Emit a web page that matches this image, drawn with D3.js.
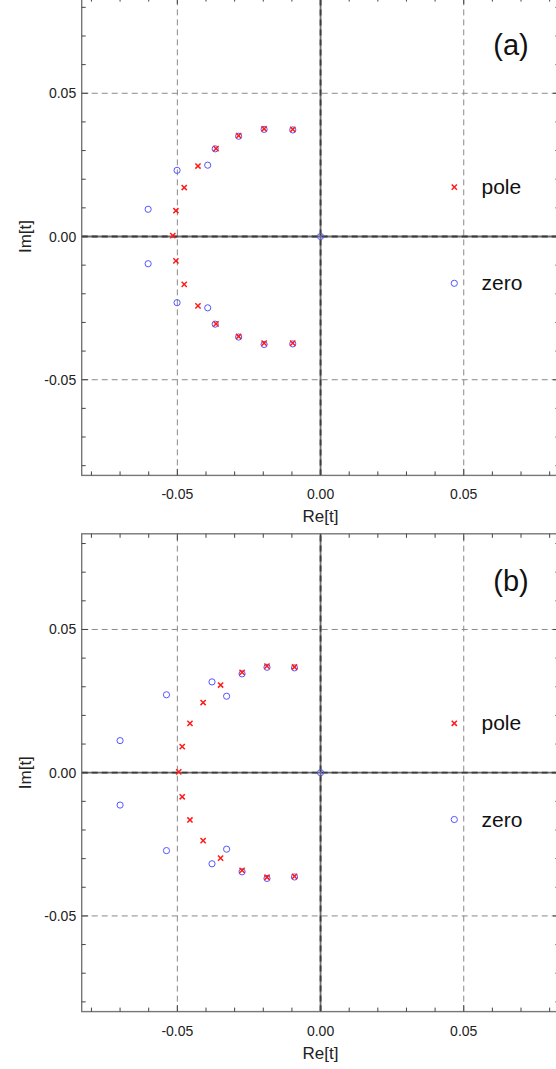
<!DOCTYPE html>
<html><head><meta charset="utf-8">
<script src="https://cdn.jsdelivr.net/npm/d3@7"></script>
<style>html,body{margin:0;padding:0;background:#fff;overflow:hidden}</style>
</head><body>
<svg id="c" width="556" height="1069"></svg>
<script>
// ---- data ----
const panelLabels = ["(a)", "(b)"];
const legendLabels = ["pole", "zero"];
const tickValues = [-0.05, 0.00, 0.05];
const tickLabels = ["-0.05", "0.00", "0.05"];
const minorTicks = [-0.08,-0.07,-0.06,-0.05,-0.04,-0.03,-0.02,-0.01,0,0.01,0.02,0.03,0.04,0.05,0.06,0.07,0.08];

const polesA_re = [-0.0516,-0.0505,-0.0476,-0.0428,-0.0365,-0.0286,-0.0197,-0.0097,-0.0505,-0.0476,-0.0428,-0.0365,-0.0286,-0.0197,-0.0097];
const polesA_im = [0.0003,0.0090,0.0171,0.0246,0.0307,0.0352,0.0376,0.0374,-0.0085,-0.0167,-0.0242,-0.0305,-0.0349,-0.0372,-0.0372];
const zerosA_re = [-0.0602,-0.0501,-0.0394,-0.0368,-0.0286,-0.0197,-0.0097,0,-0.0602,-0.0501,-0.0394,-0.0368,-0.0286,-0.0197,-0.0097];
const zerosA_im = [0.0095,0.0231,0.0249,0.0306,0.0350,0.0374,0.0372,0,-0.0095,-0.0231,-0.0249,-0.0306,-0.0351,-0.0377,-0.0375];

const polesB_re = [-0.0495,-0.0483,-0.0456,-0.0410,-0.0349,-0.0274,-0.0187,-0.0091,-0.0483,-0.0456,-0.0410,-0.0349,-0.0274,-0.0187,-0.0091];
const polesB_im = [0.0003,0.0091,0.0172,0.0245,0.0306,0.0350,0.0372,0.0369,-0.0084,-0.0165,-0.0237,-0.0298,-0.0341,-0.0365,-0.0362];
const zerosB_re = [-0.0700,-0.0538,-0.0379,-0.0328,-0.0274,-0.0187,-0.0091,0,-0.0700,-0.0538,-0.0379,-0.0328,-0.0274,-0.0187,-0.0091];
const zerosB_im = [0.0112,0.0272,0.0317,0.0267,0.0345,0.0368,0.0366,0,-0.0113,-0.0272,-0.0318,-0.0267,-0.0346,-0.0369,-0.0364];

const panels = [
  {label: panelLabels[0], top: -2.4, poles: [polesA_re, polesA_im], zeros: [zerosA_re, zerosA_im]},
  {label: panelLabels[1], top: 533.8, poles: [polesB_re, polesB_im], zeros: [zerosB_re, zerosB_im]}
];

const svg = d3.select("#c");
const FONT = "'Liberation Sans', Arial, Helvetica, sans-serif";
const R = 0.0834;
const left = 81.7, right = 559.4, H = 477.8;
const x = d3.scaleLinear().domain([-R, R]).range([left, right]);

panels.forEach(p => {
  const y = d3.scaleLinear().domain([-R, R]).range([p.top + H, p.top]);
  const g = svg.append("g");

  // gridlines
  [-0.05, 0.05].forEach(v => {
    g.append("line").attr("x1", x(v)).attr("x2", x(v)).attr("y1", y(-R)).attr("y2", y(R))
      .attr("stroke", "#8a8a8a").attr("stroke-width", 1).attr("stroke-dasharray", "6,4");
    g.append("line").attr("x1", x(-R)).attr("x2", x(R)).attr("y1", y(v)).attr("y2", y(v))
      .attr("stroke", "#8a8a8a").attr("stroke-width", 1).attr("stroke-dasharray", "6,4");
  });
  // zero axes
  g.append("line").attr("x1", x(0)).attr("x2", x(0)).attr("y1", y(-R)).attr("y2", y(R))
    .attr("stroke", "#6e6e6e").attr("stroke-width", 1.8);
  g.append("line").attr("x1", x(-R)).attr("x2", x(R)).attr("y1", y(0)).attr("y2", y(0))
    .attr("stroke", "#6e6e6e").attr("stroke-width", 1.8);
  g.append("line").attr("x1", x(0)).attr("x2", x(0)).attr("y1", y(-R)).attr("y2", y(R))
    .attr("stroke", "#3c3c3c").attr("stroke-width", 1.8).attr("stroke-dasharray", "6,4");
  g.append("line").attr("x1", x(-R)).attr("x2", x(R)).attr("y1", y(0)).attr("y2", y(0))
    .attr("stroke", "#3c3c3c").attr("stroke-width", 1.8).attr("stroke-dasharray", "6,4");

  // frame
  g.append("rect").attr("x", x(-R)).attr("y", y(R)).attr("width", x(R) - x(-R)).attr("height", y(-R) - y(R))
    .attr("fill", "none").attr("stroke", "#777").attr("stroke-width", 1.4);

  // ticks (inward) on all sides
  minorTicks.forEach(v => {
    const major = tickValues.some(t => Math.abs(t - v) < 1e-9);
    const L = major ? 6.5 : 4;
    const c = "#444";
    g.append("line").attr("x1", x(v)).attr("x2", x(v)).attr("y1", y(-R)).attr("y2", y(-R) - L).attr("stroke", c).attr("stroke-width", 1);
    g.append("line").attr("x1", x(v)).attr("x2", x(v)).attr("y1", y(R)).attr("y2", y(R) + L).attr("stroke", c).attr("stroke-width", 1);
    g.append("line").attr("y1", y(v)).attr("y2", y(v)).attr("x1", x(-R)).attr("x2", x(-R) + L).attr("stroke", c).attr("stroke-width", 1);
    g.append("line").attr("y1", y(v)).attr("y2", y(v)).attr("x1", x(R)).attr("x2", x(R) - L).attr("stroke", c).attr("stroke-width", 1);
  });

  // tick labels
  tickValues.forEach((v, i) => {
    g.append("text").attr("x", x(v)).attr("y", y(-R) + 24).attr("text-anchor", "middle")
      .attr("font-family", FONT).attr("font-size", 14).attr("fill", "#222").text(tickLabels[i]);
    g.append("text").attr("x", x(-R) - 5.5).attr("y", y(v) + 5).attr("text-anchor", "end")
      .attr("font-family", FONT).attr("font-size", 14).attr("fill", "#222").text(tickLabels[i]);
  });

  // axis titles
  g.append("text").attr("x", x(0)).attr("y", y(-R) + 47).attr("text-anchor", "middle")
    .attr("font-family", FONT).attr("font-size", 17).attr("fill", "#222").text("Re[t]");
  g.append("text").attr("transform", `translate(31,${y(0)}) rotate(-90)`).attr("text-anchor", "middle")
    .attr("font-family", FONT).attr("font-size", 17).attr("fill", "#222").text("Im[t]");

  // panel label
  g.append("text").attr("x", 511).attr("y", p.top + 57).attr("text-anchor", "middle")
    .attr("font-family", FONT).attr("font-size", 29).attr("fill", "#111").text(p.label);

  // points
  const zd = p.zeros[0].map((r, i) => ({re: r, im: p.zeros[1][i]}));
  const pd = p.poles[0].map((r, i) => ({re: r, im: p.poles[1][i]}));
  g.selectAll(".z").data(zd).enter().append("circle")
    .attr("cx", d => x(d.re)).attr("cy", d => y(d.im)).attr("r", 3.1)
    .attr("fill", "none").attr("stroke", "#5555ff").attr("stroke-width", 1);
  const s = 2.6;
  g.selectAll(".p").data(pd).enter().append("path")
    .attr("d", d => `M${x(d.re)-s},${y(d.im)-s}L${x(d.re)+s},${y(d.im)+s}M${x(d.re)-s},${y(d.im)+s}L${x(d.re)+s},${y(d.im)-s}`)
    .attr("stroke", "#ff1a1a").attr("stroke-width", 1.5).attr("fill", "none");

  // legend
  const lx = 454.3, ly1 = p.top + 189.5, ly2 = p.top + 285.7;
  g.append("path").attr("d", `M${lx-s},${ly1-s}L${lx+s},${ly1+s}M${lx-s},${ly1+s}L${lx+s},${ly1-s}`)
    .attr("stroke", "#ff1a1a").attr("stroke-width", 1.5);
  g.append("circle").attr("cx", lx).attr("cy", ly2).attr("r", 3.1).attr("fill", "none").attr("stroke", "#5555ff").attr("stroke-width", 1);
  g.append("text").attr("x", 481.5).attr("y", ly1 + 7).attr("font-family", FONT).attr("font-size", 21).attr("fill", "#111").text(legendLabels[0]);
  g.append("text").attr("x", 481.5).attr("y", ly2 + 7).attr("font-family", FONT).attr("font-size", 21).attr("fill", "#111").text(legendLabels[1]);
});
</script>
</body></html>
